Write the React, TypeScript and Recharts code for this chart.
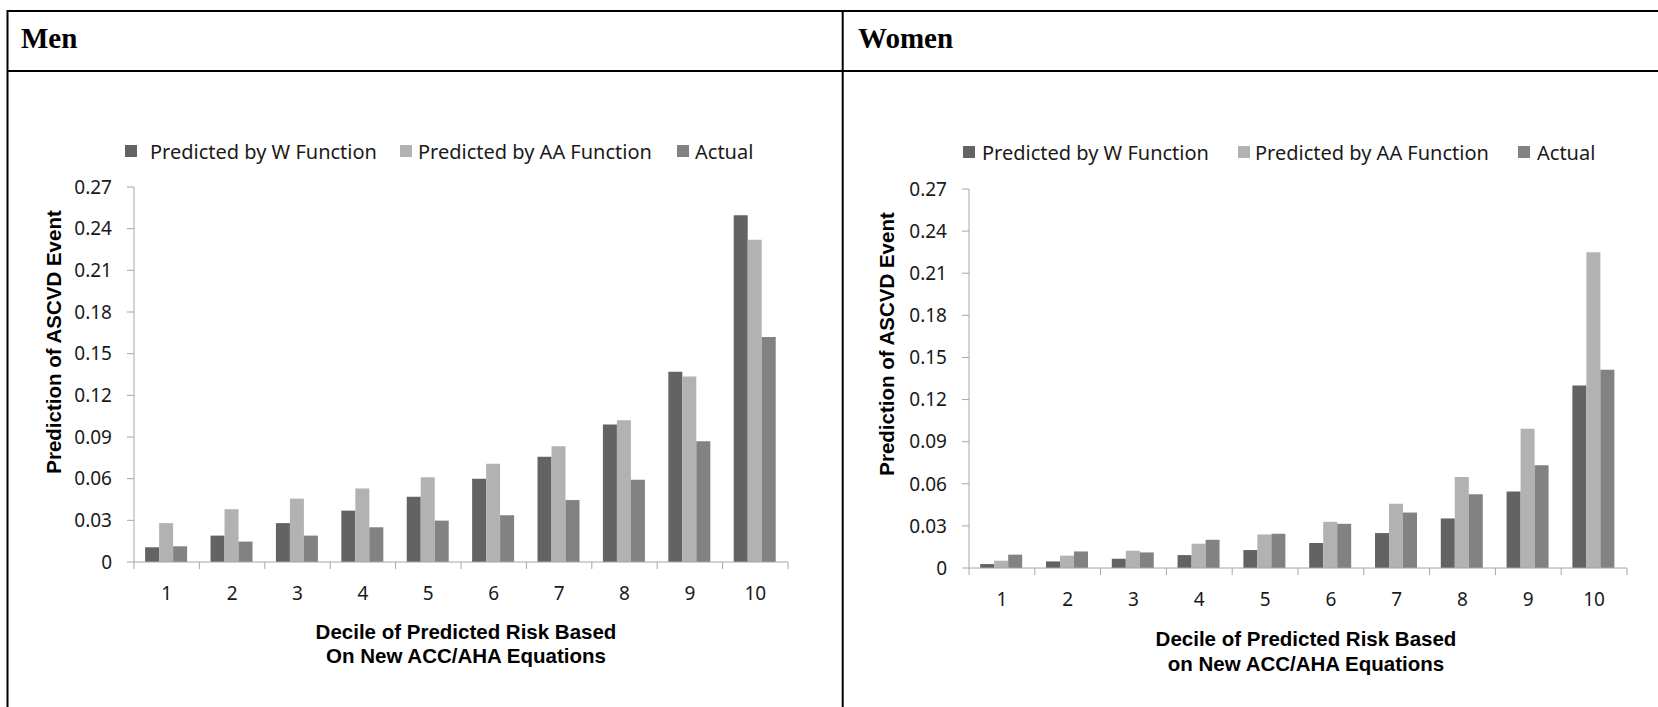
import { BarChart, Bar, XAxis, YAxis } from "recharts";

// decile categories along the x axis
const deciles = ["1", "2", "3", "4", "5", "6", "7", "8", "9", "10"];

// event rates by decile, men
const menW = [0.0106, 0.019, 0.028, 0.037, 0.047, 0.06, 0.0757, 0.099, 0.137, 0.2497];
const menAA = [0.028, 0.038, 0.0456, 0.053, 0.061, 0.0708, 0.0833, 0.102, 0.1335, 0.232];
const menActual = [0.0113, 0.0147, 0.019, 0.025, 0.0298, 0.0337, 0.0446, 0.0593, 0.087, 0.162];

// event rates by decile, women
const womenW = [0.0028, 0.0047, 0.0066, 0.0092, 0.0128, 0.0178, 0.0249, 0.0353, 0.0545, 0.13];
const womenAA = [0.0052, 0.0088, 0.0123, 0.0173, 0.0239, 0.0329, 0.0457, 0.0649, 0.0992, 0.2249];
const womenActual = [0.0095, 0.0118, 0.0111, 0.0201, 0.0244, 0.0315, 0.0395, 0.0526, 0.0732, 0.1413];

const yTicks = [0, 0.03, 0.06, 0.09, 0.12, 0.15, 0.18, 0.21, 0.24, 0.27];

const seriesNames = ["Predicted by W Function", "Predicted by AA Function", "Actual"];
const COLORS = ["#636363", "#b2b2b2", "#828282"];
const AXIS = "#a6a6a6";

const FONT_UI = '"Noto Sans", "Open Sans", sans-serif';
const FONT_BOLD = '"Liberation Sans", Arial, sans-serif';
const FONT_HEAD = '"Liberation Serif", "Times New Roman", serif';

const buildRows = (w: number[], aa: number[], actual: number[]) =>
  deciles.map((d, i) => ({ decile: d, w: w[i], aa: aa[i], actual: actual[i] }));

const menRows = buildRows(menW, menAA, menActual);
const womenRows = buildRows(womenW, womenAA, womenActual);

const fmt = (v: number) => (v === 0 ? "0" : v.toFixed(2));

const X_AXIS_H = 40;
const Y_AXIS_W = 60;

type PanelProps = {
  rows: any[];
  left: number;
  width: number;
  plotLeft: number;
  plotRight: number;
  plotTop: number;
  plotBottom: number;
};

const Panel = ({ rows, left, width, plotLeft, plotRight, plotTop, plotBottom }: PanelProps) => {
  const H = 707;
  const band = (plotRight - plotLeft) / deciles.length;

  // label at the band centre, tick marks on the band edges
  const DecileTick = (props: any) => {
    const { x, y, payload } = props;
    const last = payload.value === deciles[deciles.length - 1];
    return (
      <g>
        <line x1={x - band / 2} x2={x - band / 2} y1={y} y2={y + 7} stroke={AXIS} />
        {last && <line x1={x + band / 2} x2={x + band / 2} y1={y} y2={y + 7} stroke={AXIS} />}
        <text x={x} y={y + 31} textAnchor="middle" dominantBaseline="central" fontSize={19} fontFamily={FONT_UI} fill="#1a1a1a">
          {payload.value}
        </text>
      </g>
    );
  };

  return (
    <div style={{ position: "absolute", left, top: 0 }}>
      <BarChart
        width={width}
        height={H}
        data={rows}
        barGap={0}
        barCategoryGap="17%"
        margin={{
          top: plotTop,
          right: width - (plotRight - left),
          bottom: H - plotBottom - X_AXIS_H,
          left: plotLeft - left - Y_AXIS_W,
        }}
      >
        <XAxis
          dataKey="decile"
          height={X_AXIS_H}
          stroke={AXIS}
          tickLine={false}
          tickSize={0}
          tickMargin={0}
          tick={<DecileTick />}
          interval={0}
        />
        <YAxis
          width={Y_AXIS_W}
          domain={[0, 0.27]}
          ticks={yTicks}
          tickFormatter={fmt}
          stroke={AXIS}
          tickSize={7}
          tickMargin={15}
          tick={{ fill: "#1a1a1a", fontSize: 19, fontFamily: FONT_UI }}
          allowDataOverflow
        />
        <Bar dataKey="w" name={seriesNames[0]} fill={COLORS[0]} isAnimationActive={false} />
        <Bar dataKey="aa" name={seriesNames[1]} fill={COLORS[1]} isAnimationActive={false} />
        <Bar dataKey="actual" name={seriesNames[2]} fill={COLORS[2]} isAnimationActive={false} />
      </BarChart>
    </div>
  );
};

type LegendSpot = { sq: number; tx: number };

const LegendRow = ({ spots, y }: { spots: LegendSpot[]; y: number }) => (
  <g>
    {spots.map((s, i) => (
      <g key={i}>
        <rect x={s.sq} y={y - 6} width={12} height={12} fill={COLORS[i]} />
        <text x={s.tx} y={y} dominantBaseline="central" fontSize={20} fontFamily={FONT_UI} fill="#1a1a1a">
          {seriesNames[i]}
        </text>
      </g>
    ))}
  </g>
);

const AxisTitles = ({ yx, yy, xx, xy, lines }: { yx: number; yy: number; xx: number; xy: number[]; lines: string[] }) => (
  <g fontFamily={FONT_BOLD} fontWeight="bold" fill="#000">
    <text x={yx} y={yy} transform={`rotate(-90 ${yx} ${yy})`} textAnchor="middle" dominantBaseline="central" fontSize={20.5}>
      Prediction of ASCVD Event
    </text>
    {lines.map((l, i) => (
      <text key={i} x={xx} y={xy[i]} textAnchor="middle" dominantBaseline="central" fontSize={20.5}>
        {l}
      </text>
    ))}
  </g>
);

export default function App() {
  return (
    <div style={{ position: "absolute", left: 0, top: 0, width: 1658, height: 707, background: "#fff", overflow: "hidden" }}>
      <Panel rows={menRows} left={0} width={842} plotLeft={134} plotRight={788} plotTop={187} plotBottom={562} />
      <Panel rows={womenRows} left={843} width={815} plotLeft={969} plotRight={1627} plotTop={189} plotBottom={568} />

      <svg width={1658} height={707} style={{ position: "absolute", left: 0, top: 0, pointerEvents: "none" }}>
        {/* table frame */}
        <line x1={7.5} x2={1658} y1={11} y2={11} stroke="#000" strokeWidth={2} />
        <line x1={7.5} x2={1658} y1={71} y2={71} stroke="#000" strokeWidth={2} />
        <line x1={7.5} x2={7.5} y1={10} y2={707} stroke="#000" strokeWidth={2} />
        <line x1={842.7} x2={842.7} y1={10} y2={707} stroke="#000" strokeWidth={2} />

        <text x={21} y={48} fontFamily={FONT_HEAD} fontWeight="bold" fontSize={29} fill="#000">Men</text>
        <text x={858} y={48} fontFamily={FONT_HEAD} fontWeight="bold" fontSize={29} fill="#000">Women</text>

        <LegendRow y={151} spots={[{ sq: 125, tx: 150 }, { sq: 400, tx: 418 }, { sq: 677, tx: 695 }]} />
        <LegendRow y={152} spots={[{ sq: 963, tx: 982 }, { sq: 1238, tx: 1255 }, { sq: 1518, tx: 1537 }]} />

        <AxisTitles yx={53} yy={342} xx={466} xy={[631, 655]} lines={["Decile of Predicted Risk Based", "On New ACC/AHA Equations"]} />
        <AxisTitles yx={886} yy={344} xx={1306} xy={[638, 663]} lines={["Decile of Predicted Risk Based", "on New ACC/AHA Equations"]} />
      </svg>
    </div>
  );
}
